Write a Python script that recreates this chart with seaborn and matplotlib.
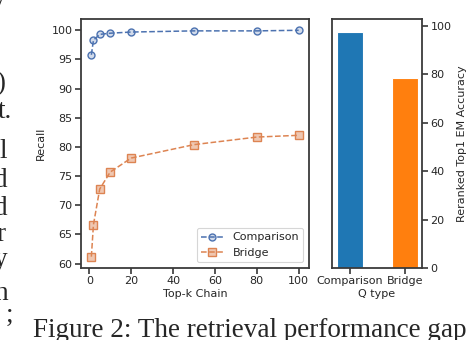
import matplotlib
matplotlib.use("Agg")
import matplotlib.pyplot as plt
import seaborn as sns
import pandas as pd

# data
top_k = [1, 2, 5, 10, 20, 50, 80, 100]
recall_comparison = [95.8, 98.3, 99.3, 99.5, 99.7, 99.9, 99.9, 100.0]
recall_bridge = [61.2, 66.7, 72.8, 75.7, 78.1, 80.4, 81.7, 82.0]
q_types = ["Comparison", "Bridge"]
em_accuracy = [97.4, 78.4]

sns.set_theme(style="ticks", context="paper")
plt.rcParams["font.family"] = ["DejaVu Sans"]
plt.rcParams["axes.edgecolor"] = "#3a3a3a"
plt.rcParams["axes.linewidth"] = 1.3

blue, orange = sns.color_palette("deep")[0], sns.color_palette("deep")[1]

fig = plt.figure(figsize=(4.72, 3.4), dpi=100)
ax1 = fig.add_axes([0.1716, 0.2118, 0.4831, 0.7324])
ax2 = fig.add_axes([0.7034, 0.2118, 0.1907, 0.7324])

df = pd.DataFrame({"k": top_k, "Comparison": recall_comparison, "Bridge": recall_bridge})
sns.lineplot(data=df, x="k", y="Comparison", ax=ax1, color=blue, linestyle="--",
             marker="o", markersize=5, mfc=(*blue, 0.25), mec=blue, mew=1.0,
             linewidth=1.1, label="Comparison")
sns.lineplot(data=df, x="k", y="Bridge", ax=ax1, color=orange, linestyle="--",
             marker="s", markersize=5.5, mfc=(*orange, 0.45), mec=orange, mew=1.0,
             linewidth=1.1, label="Bridge")
ax1.set_xlabel("Top-k Chain", fontsize=8, labelpad=2)
ax1.set_ylabel("Recall", fontsize=8)
ax1.set_yticks([60, 65, 70, 75, 80, 85, 90, 95, 100])
ax1.set_xticks([0, 20, 40, 60, 80, 100])
ax1.tick_params(labelsize=8, width=1.1, length=4, pad=2)
ax1.legend(loc="lower right", fontsize=8, frameon=True)

bars = pd.DataFrame({"Q type": q_types, "acc": em_accuracy})
sns.barplot(data=bars, x="Q type", y="acc", hue="Q type", ax=ax2,
            palette=["#1f77b4", "#ff7f0e"], width=0.48, saturation=1, legend=False)
ax2.set_xlim(-0.33, 1.31)
ax2.set_ylim(0, 102.8)
ax2.yaxis.tick_right()
ax2.yaxis.set_label_position("right")
ax2.set_yticks([0, 20, 40, 60, 80, 100])
ax2.set_ylabel("Reranked Top1 EM Accuracy", fontsize=8)
ax2.set_xlabel("Q type", fontsize=8, labelpad=2)
ax2.tick_params(labelsize=8, width=1.1, length=4, pad=2)

# surrounding paper text (caption and clipped line ends of the left column)
serif = ["Liberation Serif", "DejaVu Serif"]
fig.text(33 / 472, 1 - 337 / 340, "Figure 2: The retrieval performance gap",
         fontsize=19.5, family=serif, va="baseline", ha="left")
line_ends = [(6, 5, "y"), (90, 5, ")"), (118, 12, "t."), (158, 7, "l"),
             (187, 8, "d"), (215, 8, "d"), (241, 5, "r"), (266, 7, "y"),
             (300, 8, "h"), (322, 13, ";")]
for y, x, s in line_ends:
    fig.text(x / 472, 1 - y / 340, s, fontsize=19.5, family=serif,
             va="baseline", ha="right")

fig.savefig("out.png", dpi=100)
